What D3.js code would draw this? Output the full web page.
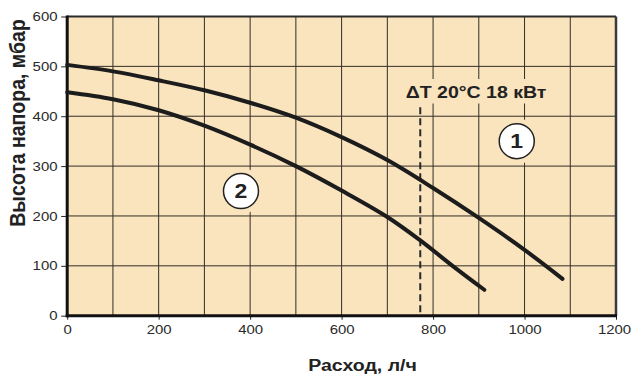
<!DOCTYPE html>
<html>
<head>
<meta charset="utf-8">
<script src="https://cdn.jsdelivr.net/npm/d3@7"></script>
<style>
  body { margin: 0; background: #fff; }
  svg { display: block; font-family: "Liberation Sans", Arial, sans-serif; }
</style>
</head>
<body>
<svg id="chart" width="631" height="374"></svg>
<script>
// pump curves, flow in l/h, head in mbar
const flow1 = [0, 100, 200, 300, 400, 500, 600, 700, 800, 900, 1000, 1083];
const head1 = [503, 490, 472, 452, 427, 397, 358, 312, 256, 196, 132, 74];
const flow2 = [0, 100, 200, 300, 400, 500, 600, 700, 772, 844, 912];
const head2 = [448, 434, 412, 381, 343, 300, 251, 198, 151, 99, 52];

const xTickValues = [0, 200, 400, 600, 800, 1000, 1200];
const yTickValues = [0, 100, 200, 300, 400, 500, 600];
const xGridValues = [100, 200, 300, 400, 500, 600, 700, 800, 900, 1000, 1100];
const yGridValues = [100, 200, 300, 400, 500];

const markerLabels = ["1", "2"];
const markerFlow = [983, 380];
const markerHead = [350, 250];

const dtLabel = "\u0394T 20°C 18 кВт";
const dtFlow = 772;
const dtTop = 418;
const dtLabelFlow = 894;
const dtLabelHead = 437;

const xTitle = "Расход, л/ч";
const yTitle = "Высота напора, мбар";

const BG = "#f9e4be";
const STRETCH = 1.15; // text in the reference is widened horizontally

const svg = d3.select("#chart");
const x = d3.scaleLinear().domain([0, 1200]).range([67.2, 616]);
const y = d3.scaleLinear().domain([0, 600]).range([315.7, 16.5]);

svg.append("rect")
  .attr("x", x(0)).attr("y", y(600))
  .attr("width", x(1200) - x(0)).attr("height", y(0) - y(600))
  .attr("fill", BG);

// grid
const grid = svg.append("g").attr("stroke", "#332d26").attr("stroke-width", 1);
grid.selectAll("line.v").data(xGridValues).enter().append("line")
  .attr("class", "v")
  .attr("x1", (d) => x(d)).attr("x2", (d) => x(d))
  .attr("y1", y(600)).attr("y2", y(0));
grid.selectAll("line.h").data(yGridValues).enter().append("line")
  .attr("class", "h")
  .attr("x1", x(0)).attr("x2", x(1200))
  .attr("y1", (d) => y(d)).attr("y2", (d) => y(d));

// frame: thin top/right, heavy axes
svg.append("line").attr("x1", x(0)).attr("x2", x(1200)).attr("y1", y(600)).attr("y2", y(600))
  .attr("stroke", "#2b2b2b").attr("stroke-width", 2);
svg.append("line").attr("x1", x(1200)).attr("x2", x(1200)).attr("y1", y(600)).attr("y2", y(0))
  .attr("stroke", "#3a3a3a").attr("stroke-width", 2.5);

function stretchText(sel, offsetX) {
  sel.each(function () {
    const t = d3.select(this);
    t.attr("x", 0).attr("transform", `translate(${offsetX},0) scale(${STRETCH},1)`);
  });
}

const xAxis = svg.append("g")
  .attr("transform", `translate(0,${y(0)})`)
  .call(d3.axisBottom(x).tickValues(xTickValues).tickFormat(d3.format("d"))
    .tickSize(4).tickPadding(5).tickSizeOuter(0));
const yAxis = svg.append("g")
  .attr("transform", `translate(${x(0)},0)`)
  .call(d3.axisLeft(y).tickValues(yTickValues).tickFormat(d3.format("d"))
    .tickSize(6).tickPadding(3.7).tickSizeOuter(0));

[xAxis, yAxis].forEach((ax) => {
  ax.select(".domain").remove();
  ax.selectAll(".tick line").attr("stroke", "#222").attr("stroke-width", 1);
  ax.selectAll(".tick text")
    .attr("fill", "#2a2a2a")
    .attr("font-size", 13)
    .attr("font-family", "'Liberation Sans', Arial, sans-serif");
});
stretchText(xAxis.selectAll(".tick text"), 0);
stretchText(yAxis.selectAll(".tick text"), -9.7);
// last x label sits at the right edge, keep it inside
xAxis.selectAll(".tick text").filter((d) => d === 1200)
  .attr("transform", `translate(-2,0) scale(${STRETCH},1)`);

svg.append("line").attr("x1", x(0)).attr("x2", x(0)).attr("y1", y(600) - 1).attr("y2", y(0) + 1.5)
  .attr("stroke", "#111").attr("stroke-width", 3);
svg.append("line").attr("x1", x(0) - 1.5).attr("x2", x(1200) + 1).attr("y1", y(0)).attr("y2", y(0))
  .attr("stroke", "#111").attr("stroke-width", 3);

// dashed marker line
svg.append("line")
  .attr("x1", x(dtFlow)).attr("x2", x(dtFlow))
  .attr("y1", y(dtTop)).attr("y2", y(0) - 1.5)
  .attr("stroke", "#2a2a2a").attr("stroke-width", 2)
  .attr("stroke-dasharray", "7,4");

// curves
const line = d3.line().x((d) => x(d[0])).y((d) => y(d[1])).curve(d3.curveCatmullRom.alpha(0.5));
[[flow1, head1], [flow2, head2]].forEach(([fs, hs]) => {
  svg.append("path")
    .datum(fs.map((f, i) => [f, hs[i]]))
    .attr("d", line)
    .attr("fill", "none")
    .attr("stroke", "#1c1c1c")
    .attr("stroke-width", 4)
    .attr("stroke-linecap", "round");
});

// ΔT label with background patch
const dtG = svg.append("g").attr("transform", `translate(${x(dtLabelFlow)},${y(dtLabelHead)})`);
const dtBg = dtG.append("rect").attr("fill", BG);
const dtText = dtG.append("text")
  .attr("text-anchor", "middle")
  .attr("font-size", 17)
  .attr("font-weight", "700")
  .attr("fill", "#222")
  .attr("transform", `scale(${STRETCH},1)`)
  .text(dtLabel);
const bb = dtText.node().getBBox();
dtBg.attr("x", bb.x * STRETCH - 4).attr("y", bb.y - 3)
  .attr("width", bb.width * STRETCH + 8).attr("height", bb.height + 5);

// numbered circles
const markers = svg.selectAll("g.marker")
  .data(markerLabels)
  .enter()
  .append("g")
  .attr("class", "marker")
  .attr("transform", (d, i) => `translate(${x(markerFlow[i])},${y(markerHead[i])})`);
markers.append("circle").attr("r", 23).attr("fill", BG);
markers.append("circle").attr("r", 17.5)
  .attr("fill", "#fff").attr("stroke", "#222").attr("stroke-width", 1.5);
markers.append("text")
  .attr("text-anchor", "middle")
  .attr("dy", "0.36em")
  .attr("font-size", 20)
  .attr("font-weight", "700")
  .attr("fill", "#222")
  .attr("transform", `scale(${STRETCH},1)`)
  .text((d) => d);

// axis titles
svg.append("text")
  .attr("transform", `translate(362.5,371) scale(${STRETCH},1)`)
  .attr("text-anchor", "middle")
  .attr("font-size", 17)
  .attr("font-weight", "700")
  .attr("fill", "#222")
  .text(xTitle);

svg.append("text")
  .attr("transform", `translate(25,123) rotate(-90) scale(1,${STRETCH})`)
  .attr("text-anchor", "middle")
  .attr("font-size", 19.5)
  .attr("font-weight", "700")
  .attr("fill", "#222")
  .text(yTitle);
</script>
</body>
</html>
